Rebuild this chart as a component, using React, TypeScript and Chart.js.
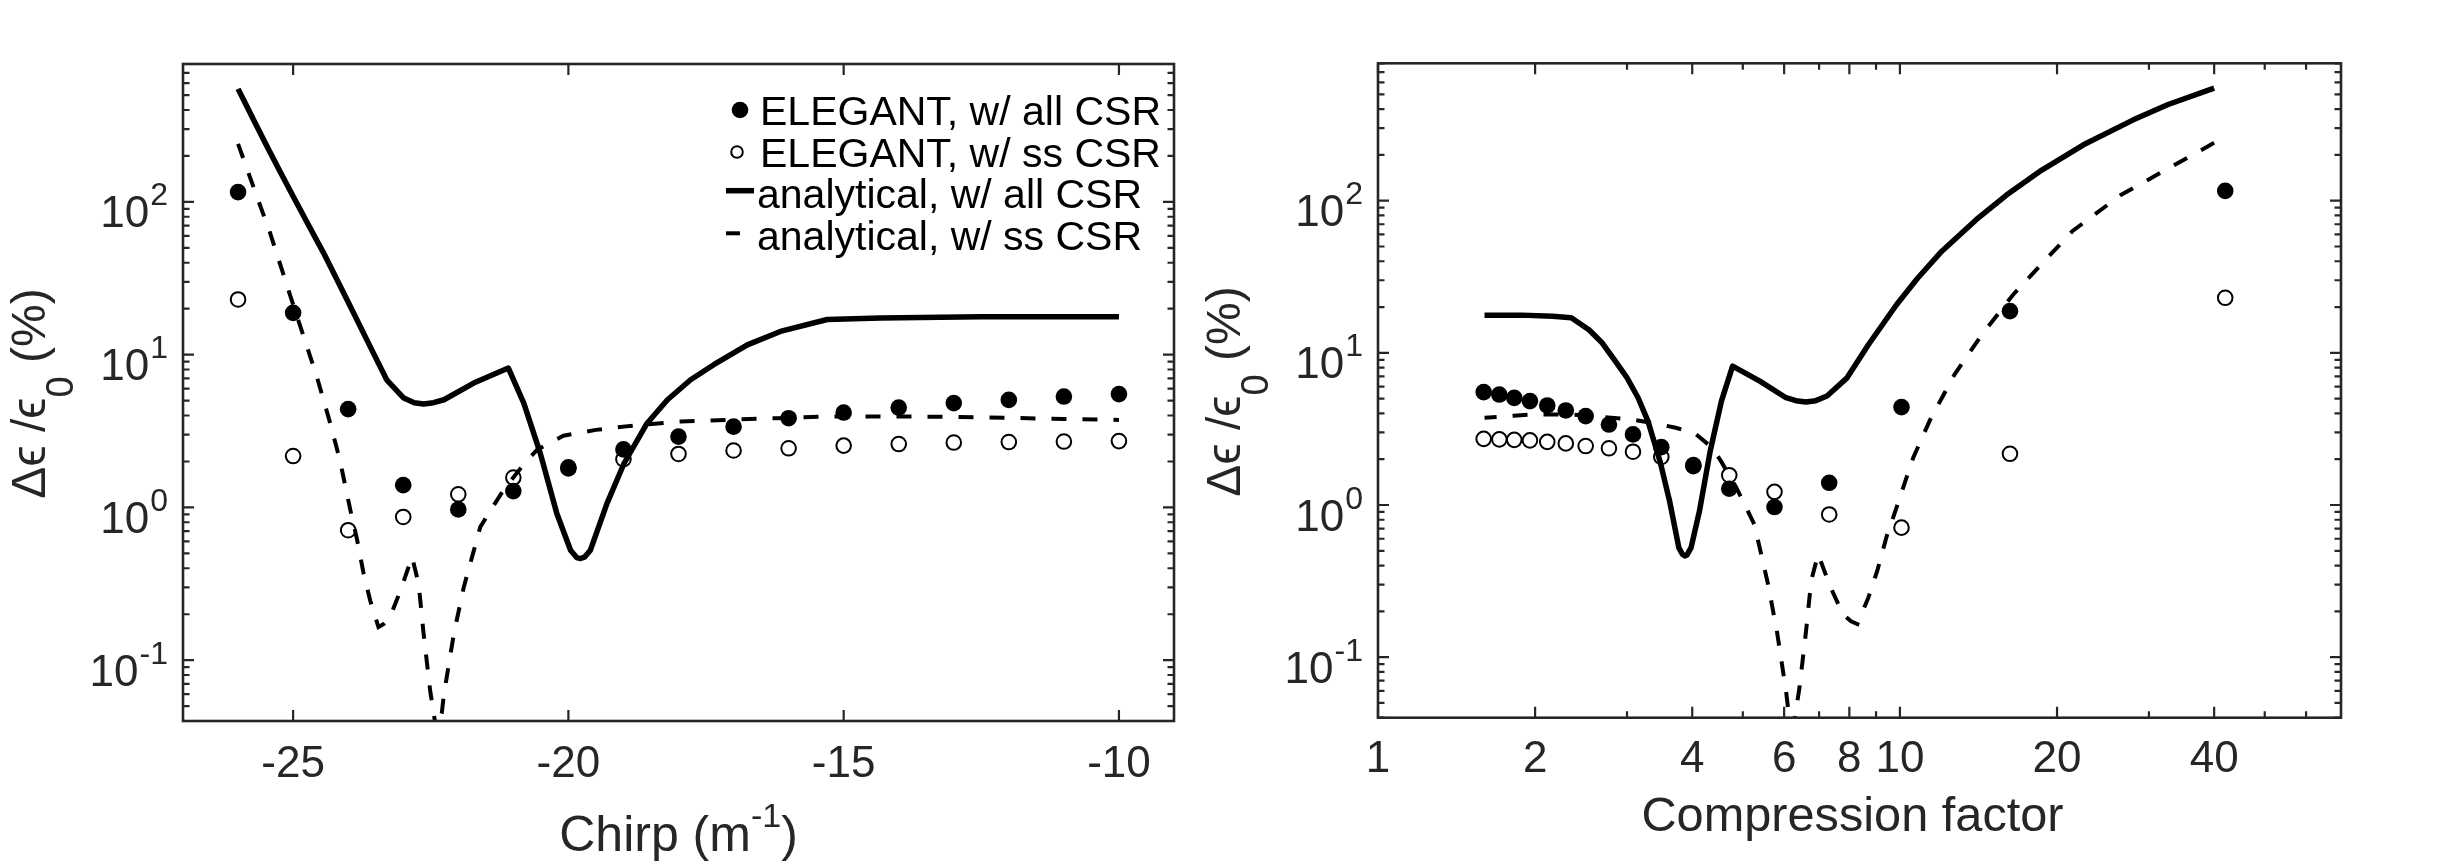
import React, { useEffect, useRef } from 'react';
import { Chart, registerables } from 'chart.js';

Chart.register(...registerables);

// ---------------- data ----------------
const chirpPoints = [-26, -25, -24, -23, -22, -21, -20, -19, -18, -17, -16, -15, -14, -13, -12, -11, -10];
const compressionPoints = [42.0, 16.25, 10.07, 7.32, 5.75, 4.71, 4.02, 3.49, 3.08, 2.77, 2.5, 2.29, 2.11, 1.955, 1.824, 1.708, 1.594];
const elegantAllCsr = [116, 18.8, 4.4, 1.4, 0.97, 1.28, 1.83, 2.4, 2.91, 3.38, 3.84, 4.18, 4.51, 4.82, 5.06, 5.32, 5.52];
const elegantSsCsr = [23.0, 2.17, 0.71, 0.867, 1.22, 1.57, 1.8, 2.07, 2.24, 2.36, 2.44, 2.54, 2.6, 2.66, 2.68, 2.7, 2.72];

const chirpCurveAll = [-26, -25.85, -25.71, -25.48, -25.24, -25.0, -24.76, -24.45, -24.2, -23.96, -23.6, -23.3, -22.99, -22.8, -22.63, -22.45, -22.26, -21.72, -21.09, -20.81, -20.51, -20.21, -19.96, -19.85, -19.78, -19.7, -19.6, -19.3, -18.99, -18.57, -18.2, -17.78, -17.36, -16.75, -16.15, -15.3, -14.33, -12.51, -10];
const compressionCurveAll = [40.0, 32.65, 28.0, 22.47, 18.7, 16.0, 14.0, 12.03, 10.8, 9.85, 8.7, 7.92, 7.25, 6.9, 6.61, 6.32, 6.05, 5.39, 4.78, 4.55, 4.33, 4.13, 3.98, 3.91, 3.87, 3.83, 3.77, 3.62, 3.47, 3.29, 3.15, 3.0, 2.865, 2.69, 2.536, 2.346, 2.16, 1.884, 1.6];
const analyticalAllCsr = [550, 429, 340, 233, 159, 109, 75, 46.6, 30.8, 20.7, 11.3, 6.85, 5.2, 4.85, 4.75, 4.85, 5.07, 6.52, 8.18, 4.82, 2.26, 0.914, 0.525, 0.47, 0.463, 0.475, 0.525, 1.06, 1.94, 3.56, 5.07, 6.86, 8.6, 11.6, 14.2, 17.0, 17.4, 17.7, 17.7];

const chirpCurveSs = [-26, -25.66, -25.42, -25.05, -24.81, -24.57, -24.33, -24.15, -23.96, -23.84, -23.72, -23.6, -23.45, -23.36, -23.24, -23.05, -22.84, -22.72, -22.63, -22.51, -22.4, -22.3, -22.26, -22.08, -21.9, -21.6, -21.18, -20.81, -20.57, -20.09, -19.5, -18.87, -17.96, -17.0, -16.2, -15.3, -14.0, -13.0, -12.0, -11.0, -10.0];
const compressionCurveSs = [40.0, 26.5, 21.39, 16.49, 14.36, 12.72, 11.41, 10.6, 9.85, 9.43, 9.05, 8.7, 8.29, 8.06, 7.78, 7.37, 6.97, 6.76, 6.61, 6.42, 6.25, 6.11, 6.05, 5.81, 5.59, 5.26, 4.86, 4.55, 4.37, 4.05, 3.72, 3.42, 3.063, 2.759, 2.548, 2.346, 2.105, 1.951, 1.818, 1.702, 1.6];
const analyticalSsCsr = [240, 109, 63, 24.2, 13.2, 7.2, 3.6, 2.04, 0.96, 0.62, 0.37, 0.246, 0.165, 0.172, 0.191, 0.286, 0.474, 0.317, 0.149, 0.063, 0.035, 0.045, 0.06, 0.149, 0.301, 0.746, 1.3, 1.92, 2.38, 2.95, 3.22, 3.42, 3.65, 3.76, 3.84, 3.94, 3.94, 3.92, 3.86, 3.79, 3.74];

const seriesLabels = ['ELEGANT, w/ all CSR', 'ELEGANT, w/ ss CSR', 'analytical, w/ all CSR', 'analytical, w/ ss CSR'];

// tick labels
const chirpTicks = [-25, -20, -15, -10];
const chirpTickLabels = ['-25', '-20', '-15', '-10'];
const compressionTicks = [1, 2, 4, 6, 8, 10, 20, 40];
const compressionTickLabels = ['1', '2', '4', '6', '8', '10', '20', '40'];
const compressionMinorTicks = [3, 5, 7, 9, 30, 50, 60];
const yDecadeTicks = [0.1, 1, 10, 100];
const yExponentLabels = ['-1', '0', '1', '2'];
const yMinorTicks = [0.04, 0.05, 0.06, 0.07, 0.08, 0.09, 0.2, 0.3, 0.4, 0.5, 0.6, 0.7, 0.8, 0.9, 2, 3, 4, 5, 6, 7, 8, 9, 20, 30, 40, 50, 60, 70, 80, 90, 200, 300, 400, 500, 600, 700, 800];

// ---------------- styling ----------------
const FONT = '"Liberation Sans", Arial, Helvetica, sans-serif';
const AXIS_COLOR = '#262626';

type Run = { text: string; size: number; dy: number };

function runsWidth(ctx: CanvasRenderingContext2D, runs: Run[]) {
  let w = 0;
  for (const r of runs) {
    ctx.font = `${r.size}px ${FONT}`;
    w += ctx.measureText(r.text).width;
  }
  return w;
}

function drawRuns(ctx: CanvasRenderingContext2D, runs: Run[], x: number, y: number, align: 'left' | 'center' | 'right') {
  const w = runsWidth(ctx, runs);
  let cx = align === 'left' ? x : align === 'center' ? x - w / 2 : x - w;
  ctx.textAlign = 'left';
  ctx.textBaseline = 'alphabetic';
  for (const r of runs) {
    ctx.font = `${r.size}px ${FONT}`;
    ctx.fillText(r.text, cx, y + r.dy);
    cx += ctx.measureText(r.text).width;
  }
}

const pts = (xs: number[], ys: number[]) => xs.map((x, i) => ({ x, y: ys[i] }));

type AxisSpec = {
  id: string;
  xMajor: number[];
  xLabels: string[];
  xMinor: number[];
  xLabelOffset: number;
  xTitle: Run[];
  xTitleOffset: number;
  xTitleShift: number;
  legend: boolean;
};

function makeAxesPlugin(spec: AxisSpec) {
  return {
    id: spec.id,
    afterDraw(chart: any) {
      const { ctx, chartArea: a, scales } = chart;
      const xs = scales.x;
      const ys = scales.y;
      ctx.save();
      ctx.strokeStyle = AXIS_COLOR;
      ctx.fillStyle = AXIS_COLOR;
      ctx.lineCap = 'butt';

      // ticks (inward, on all four sides)
      const major = 11;
      const minor = 6.5;
      ctx.lineWidth = 2.2;
      ctx.beginPath();
      const xTick = (v: number, len: number) => {
        const p = xs.getPixelForValue(v);
        if (p < a.left - 0.5 || p > a.right + 0.5) return;
        ctx.moveTo(p, a.bottom);
        ctx.lineTo(p, a.bottom - len);
        ctx.moveTo(p, a.top);
        ctx.lineTo(p, a.top + len);
      };
      const yTick = (v: number, len: number) => {
        const p = ys.getPixelForValue(v);
        if (p < a.top - 0.5 || p > a.bottom + 0.5) return;
        ctx.moveTo(a.left, p);
        ctx.lineTo(a.left + len, p);
        ctx.moveTo(a.right, p);
        ctx.lineTo(a.right - len, p);
      };
      spec.xMajor.forEach((v) => xTick(v, major));
      spec.xMinor.forEach((v) => xTick(v, minor));
      yDecadeTicks.forEach((v) => yTick(v, major));
      yMinorTicks.forEach((v) => yTick(v, minor));
      ctx.stroke();

      // frame
      ctx.lineWidth = 2.6;
      ctx.strokeRect(a.left, a.top, a.right - a.left, a.bottom - a.top);

      // x tick labels
      ctx.textAlign = 'center';
      ctx.textBaseline = 'alphabetic';
      ctx.font = `44px ${FONT}`;
      spec.xMajor.forEach((v, i) => {
        const p = xs.getPixelForValue(v);
        ctx.fillText(spec.xLabels[i], p, a.bottom + spec.xLabelOffset);
      });

      // y tick labels 10^n
      yDecadeTicks.forEach((v, i) => {
        const p = ys.getPixelForValue(v);
        const rx = a.left - 15;
        ctx.font = `32px ${FONT}`;
        const supW = ctx.measureText(yExponentLabels[i]).width;
        ctx.textAlign = 'left';
        ctx.fillText(yExponentLabels[i], rx - supW, p + 3.5);
        ctx.font = `44px ${FONT}`;
        ctx.textAlign = 'right';
        ctx.fillText('10', rx - supW - 1, p + 25.5);
      });

      // x title
      drawRuns(ctx, spec.xTitle, (a.left + a.right) / 2 + spec.xTitleShift, a.bottom + spec.xTitleOffset, 'center');

      // y title (rotated)
      ctx.save();
      ctx.translate(a.left - 138, (a.top + a.bottom) / 2 + 1);
      ctx.rotate(-Math.PI / 2);
      drawRuns(
        ctx,
        [
          { text: 'Δϵ /ϵ', size: 48, dy: 0 },
          { text: '0', size: 38, dy: 28 },
          { text: ' (%)', size: 48, dy: 0 },
        ],
        0,
        0,
        'center'
      );
      ctx.restore();

      // legend
      if (spec.legend) {
        const ds = chart.data.datasets;
        ctx.fillStyle = '#000';
        ctx.strokeStyle = '#000';
        ctx.font = `41px ${FONT}`;
        ctx.textAlign = 'left';
        ctx.textBaseline = 'alphabetic';
        const R = a.right;
        const T = a.top;
        // filled marker
        ctx.beginPath();
        ctx.arc(R - 434, T + 46, 8.3, 0, Math.PI * 2);
        ctx.fill();
        ctx.fillText(ds[2].label, R - 414, T + 61);
        // open marker
        ctx.lineWidth = 2;
        ctx.beginPath();
        ctx.arc(R - 437, T + 88, 5.8, 0, Math.PI * 2);
        ctx.stroke();
        ctx.fillText(ds[3].label, R - 414, T + 102.7);
        // solid line sample
        ctx.lineWidth = ds[1].borderWidth;
        ctx.beginPath();
        ctx.moveTo(R - 448, T + 126.7);
        ctx.lineTo(R - 420, T + 126.7);
        ctx.stroke();
        ctx.fillText(ds[1].label, R - 417, T + 144.3);
        // dashed line sample
        ctx.lineWidth = ds[0].borderWidth;
        ctx.beginPath();
        ctx.moveTo(R - 448, T + 169.3);
        ctx.lineTo(R - 434, T + 169.3);
        ctx.stroke();
        ctx.fillText(ds[0].label, R - 417, T + 186);
      }
      ctx.restore();
    },
  };
}

function makeDatasets(xPoints: number[], xAll: number[], xSs: number[]) {
  return [
    {
      label: seriesLabels[3],
      data: pts(xSs, analyticalSsCsr),
      showLine: true,
      borderColor: '#000',
      borderWidth: 4,
      borderDash: [15, 16],
      pointRadius: 0,
      tension: 0,
      clip: 0,
    },
    {
      label: seriesLabels[2],
      data: pts(xAll, analyticalAllCsr),
      showLine: true,
      borderColor: '#000',
      borderWidth: 5.5,
      borderJoinStyle: 'round',
      pointRadius: 0,
      tension: 0,
      clip: 0,
    },
    {
      label: seriesLabels[0],
      data: pts(xPoints, elegantAllCsr),
      showLine: false,
      pointRadius: 8.3,
      pointBorderWidth: 0,
      pointBackgroundColor: '#000',
      pointBorderColor: '#000',
    },
    {
      label: seriesLabels[1],
      data: pts(xPoints, elegantSsCsr),
      showLine: false,
      pointRadius: 7.3,
      pointBorderWidth: 2,
      pointBackgroundColor: 'rgba(0,0,0,0)',
      pointBorderColor: '#000',
    },
  ];
}

function makeConfig(opts: {
  xType: 'linear' | 'logarithmic';
  xMin: number;
  xMax: number;
  yAxisWidth: number;
  xAxisHeight: number;
  padding: { left: number; right: number; top: number; bottom: number };
  datasets: any[];
  plugin: any;
}) {
  return {
    type: 'scatter' as const,
    data: { datasets: opts.datasets },
    options: {
      responsive: false,
      animation: false as const,
      devicePixelRatio: 1,
      events: [] as any[],
      layout: { padding: opts.padding, autoPadding: false },
      plugins: { legend: { display: false }, tooltip: { enabled: false }, title: { display: false } },
      scales: {
        x: {
          type: opts.xType,
          min: opts.xMin,
          max: opts.xMax,
          grid: { display: false },
          border: { display: false },
          ticks: { display: false },
          afterFit: (s: any) => {
            s.height = opts.xAxisHeight;
          },
        },
        y: {
          type: 'logarithmic' as const,
          min: 0.04,
          max: 800,
          grid: { display: false },
          border: { display: false },
          ticks: { display: false },
          afterFit: (s: any) => {
            s.width = opts.yAxisWidth;
          },
        },
      },
    },
    plugins: [opts.plugin],
  };
}

export default function App() {
  const leftRef = useRef<HTMLCanvasElement>(null);
  const rightRef = useRef<HTMLCanvasElement>(null);

  useEffect(() => {
    document.body.style.margin = '0';
    const left = new Chart(
      leftRef.current as HTMLCanvasElement,
      makeConfig({
        xType: 'linear',
        xMin: -27,
        xMax: -9,
        yAxisWidth: 183,
        xAxisHeight: 863 - 721,
        padding: { left: 0, right: 16, top: 64, bottom: 0 },
        datasets: makeDatasets(chirpPoints, chirpCurveAll, chirpCurveSs),
        plugin: makeAxesPlugin({
          id: 'axesLeft',
          xMajor: chirpTicks,
          xLabels: chirpTickLabels,
          xMinor: [],
          xLabelOffset: 55.5,
          xTitle: [
            { text: 'Chirp (m', size: 50, dy: 0 },
            { text: '-1', size: 34, dy: -24 },
            { text: ')', size: 50, dy: 0 },
          ],
          xTitleOffset: 129.5,
          xTitleShift: 0,
          legend: true,
        }),
      }) as any
    );
    const right = new Chart(
      rightRef.current as HTMLCanvasElement,
      makeConfig({
        xType: 'logarithmic',
        xMin: 1,
        xMax: 70,
        yAxisWidth: 188,
        xAxisHeight: 145.3,
        padding: { left: 0, right: 120, top: 63.3, bottom: 0 },
        datasets: makeDatasets(compressionPoints, compressionCurveAll, compressionCurveSs),
        plugin: makeAxesPlugin({
          id: 'axesRight',
          xMajor: compressionTicks,
          xLabels: compressionTickLabels,
          xMinor: compressionMinorTicks,
          xLabelOffset: 54,
          xTitle: [{ text: 'Compression factor', size: 48.7, dy: 0 }],
          xTitleOffset: 112.8,
          xTitleShift: -7,
          legend: false,
        }),
      }) as any
    );
    return () => {
      left.destroy();
      right.destroy();
    };
  }, []);

  return (
    <div style={{ position: 'relative', width: 2461, height: 863, background: '#fff', overflow: 'hidden' }}>
      <canvas ref={leftRef} width={1190} height={863} style={{ position: 'absolute', left: 0, top: 0, width: 1190, height: 863 }} />
      <canvas ref={rightRef} width={1271} height={863} style={{ position: 'absolute', left: 1190, top: 0, width: 1271, height: 863 }} />
    </div>
  );
}
